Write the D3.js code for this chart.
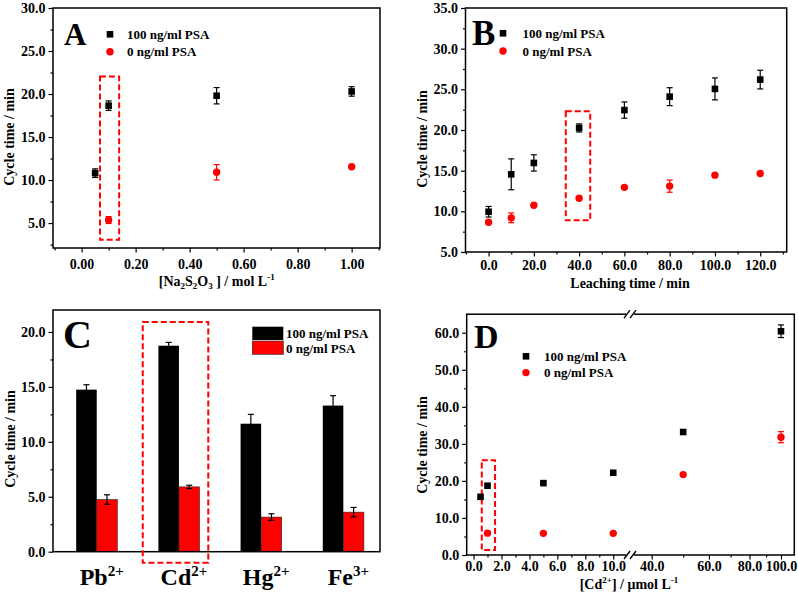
<!DOCTYPE html>
<html><head><meta charset="utf-8">
<script src="https://cdn.jsdelivr.net/npm/d3@7"></script>
<style>
body{margin:0;background:#fff}
svg{display:block}
text{font-family:'Liberation Serif','Times New Roman',serif;font-weight:bold;fill:#000}
</style>
</head><body><svg id="c" width="798" height="596"></svg>
<script>
// ---------- Panel A : [Na2S2O3] ----------
const naX_high = [0.05, 0.1, 0.5, 1.0];
const naY_high = [10.8, 18.65, 19.8, 20.3];
const naE_high = [0.5, 0.55, 0.95, 0.55];
const naX_low = [0.1, 0.5, 1.0];
const naY_low = [5.35, 10.9, 11.55];
const naE_low = [0.4, 0.9, 0.0];
const naXTicks = [0, 0.2, 0.4, 0.6, 0.8, 1.0];
const naXMinor = [-0.1, 0.1, 0.3, 0.5, 0.7, 0.9, 1.1];
const naYTicks = [5, 10, 15, 20, 25, 30];
const naYMinor = [2.5, 7.5, 12.5, 17.5, 22.5, 27.5];
const naBox = [0.068, 0.139, 3.06, 22.05];

// ---------- Panel B : leaching time ----------
const leachX = [0, 10, 20, 40, 60, 80, 100, 120];
const leachY_high = [9.95, 14.55, 15.95, 20.25, 22.45, 24.1, 25.05, 26.2];
const leachE_high = [0.65, 1.9, 1.0, 0.5, 1.0, 1.1, 1.35, 1.15];
const leachY_low = [8.65, 9.2, 10.75, 11.6, 12.95, 13.1, 14.45, 14.65];
const leachE_low = [0, 0.6, 0, 0, 0, 0.75, 0, 0];
const leachXTicks = [0, 20, 40, 60, 80, 100, 120];
const leachXMinor = [-10, 10, 30, 50, 70, 90, 110, 130];
const leachYTicks = [5, 10, 15, 20, 25, 30, 35];
const leachYMinor = [7.5, 12.5, 17.5, 22.5, 27.5, 32.5];
const leachBox = [34.1, 44.9, 8.9, 22.3];

// ---------- Panel C : interfering ions ----------
const ions = ["Pb", "Cd", "Hg", "Fe"];
const ionCharge = ["2+", "2+", "2+", "3+"];
const ionHigh = [14.75, 18.75, 11.65, 13.3];
const ionHighErr = [0.45, 0.3, 0.85, 0.9];
const ionLow = [4.75, 5.9, 3.15, 3.6];
const ionLowErr = [0.43, 0.15, 0.3, 0.43];
const ionYTicks = [0, 5, 10, 15, 20];
const ionYMinor = [2.5, 7.5, 12.5, 17.5];
const ionBox = [1.56, 2.357, -1.0, 20.9];

// ---------- Panel D : [Cd2+] ----------
const cdX_high = [0.5, 1, 5, 10, 50, 100];
const cdY_high = [15.7, 18.7, 19.4, 22.2, 33.2, 60.4];
const cdE_high = [0, 0, 0, 0, 0, 1.7];
const cdX_low = [1, 5, 10, 50, 100];
const cdY_low = [5.9, 5.85, 5.85, 21.7, 31.8];
const cdE_low = [0, 0, 0, 0, 1.5];
const cdXTicksL = [0, 2, 4, 6, 8, 10];
const cdXMinorL = [1, 3, 5, 7, 9];
const cdXTicksR = [40, 60, 80, 100];
const cdXMinorR = [50, 70, 90];
const cdYTicks = [0, 10, 20, 30, 40, 50, 60];
const cdYMinor = [5, 15, 25, 35, 45, 55];
const cdBox = [0.59, 1.54, 1.35, 25.6];

const legendLabels = ["100 ng/ml PSA", "0 ng/ml PSA"];
const RED = "#ff0000";
const svg = d3.select("#c");
const f1 = d3.format(".1f"), f2 = d3.format(".2f");

function styleAxis(g) {
  g.attr("font-size", 14).attr("font-family", null);
  g.select(".domain").remove();
  g.selectAll(".tick line").attr("stroke", "#000").attr("stroke-width", 1.2);
  g.selectAll(".tick text").attr("fill", "#000");
  return g;
}
function yAxis(fr, y, ticks, minor, fmt) {
  svg.append("g").attr("transform", `translate(${fr.x0},0)`)
    .call(d3.axisLeft(y).tickValues(minor).tickSize(2.5).tickFormat("")).call(styleAxis);
  svg.append("g").attr("transform", `translate(${fr.x0},0)`)
    .call(d3.axisLeft(y).tickValues(ticks).tickSize(4.5).tickPadding(3).tickFormat(fmt)).call(styleAxis);
}
function xAxis(fr, x, ticks, minor, fmt, pad) {
  svg.append("g").attr("transform", `translate(0,${fr.y1})`)
    .call(d3.axisBottom(x).tickValues(minor).tickSize(2.5).tickFormat("")).call(styleAxis);
  svg.append("g").attr("transform", `translate(0,${fr.y1})`)
    .call(d3.axisBottom(x).tickValues(ticks).tickSize(4.5).tickPadding(pad).tickFormat(fmt)).call(styleAxis);
}
function frame(fr) {
  svg.append("rect").attr("x", fr.x0).attr("y", fr.y0)
    .attr("width", fr.x1 - fr.x0).attr("height", fr.y1 - fr.y0)
    .attr("fill", "none").attr("stroke", "#000").attr("stroke-width", 1.5);
}
function yTitle(x, y) {
  svg.append("text").attr("transform", `translate(${x},${y}) rotate(-90)`)
    .attr("text-anchor", "middle").attr("font-size", 14).text("Cycle time / min");
}
function panelLetter(x, y, s, t) {
  svg.append("text").attr("x", x).attr("y", y).attr("font-size", s).text(t);
}
function dashedBox(x, y, b) {
  svg.append("rect").attr("x", x(b[0])).attr("y", y(b[3]))
    .attr("width", x(b[1]) - x(b[0])).attr("height", y(b[2]) - y(b[3]))
    .attr("fill", "none").attr("stroke", RED).attr("stroke-width", 2)
    .attr("stroke-dasharray", "6,3");
}
function errorBars(xs, ys, es, x, y, color) {
  const g = svg.append("g").attr("stroke", color).attr("stroke-width", 1.2);
  xs.forEach((xv, i) => {
    if (!es[i]) return;
    const cx = x(xv), yt = y(ys[i] + es[i]), yb = y(ys[i] - es[i]);
    g.append("line").attr("x1", cx).attr("x2", cx).attr("y1", yt).attr("y2", yb);
    g.append("line").attr("x1", cx - 3).attr("x2", cx + 3).attr("y1", yt).attr("y2", yt);
    g.append("line").attr("x1", cx - 3).attr("x2", cx + 3).attr("y1", yb).attr("y2", yb);
  });
}
function squares(xs, ys, x, y) {
  svg.append("g").selectAll("rect").data(xs).join("rect")
    .attr("x", (d) => x(d) - 3.3).attr("y", (d, i) => y(ys[i]) - 3.3)
    .attr("width", 6.6).attr("height", 6.6).attr("fill", "#000");
}
function circles(xs, ys, x, y) {
  svg.append("g").selectAll("circle").data(xs).join("circle")
    .attr("cx", (d) => x(d)).attr("cy", (d, i) => y(ys[i])).attr("r", 3.7).attr("fill", RED);
}
function scatterLegend(mx, my, tx, gap) {
  svg.append("rect").attr("x", mx - 3.3).attr("y", my - 3.3).attr("width", 6.6).attr("height", 6.6).attr("fill", "#000");
  svg.append("circle").attr("cx", mx).attr("cy", my + gap).attr("r", 3.7).attr("fill", RED);
  svg.append("text").attr("x", tx).attr("y", my + 4.5).attr("font-size", 13).text(legendLabels[0]);
  svg.append("text").attr("x", tx).attr("y", my + gap + 4.5).attr("font-size", 13).text(legendLabels[1]);
}

// ===== Panel A =====
{
  const fr = {x0: 53, x1: 380, y0: 8, y1: 248};
  const x = d3.scaleLinear().domain([-0.106, 1.105]).range([fr.x0, fr.x1]);
  const y = d3.scaleLinear().domain([2.1, 30]).range([fr.y1, fr.y0]);
  frame(fr);
  yAxis(fr, y, naYTicks, naYMinor, f1);
  xAxis(fr, x, naXTicks, naXMinor, f2, 7);
  dashedBox(x, y, naBox);
  errorBars(naX_high, naY_high, naE_high, x, y, "#000");
  errorBars(naX_low, naY_low, naE_low, x, y, RED);
  squares(naX_high, naY_high, x, y);
  circles(naX_low, naY_low, x, y);
  scatterLegend(110, 34.3, 127, 17.4);
  panelLetter(64, 44.5, 31, "A");
  yTitle(13.5, 137);
  const t = svg.append("text").attr("x", 216.7).attr("y", 286).attr("text-anchor", "middle").attr("font-size", 14);
  t.append("tspan").text("[Na");
  t.append("tspan").attr("font-size", 9).attr("dy", 3).text("2");
  t.append("tspan").attr("dy", -3).text("S");
  t.append("tspan").attr("font-size", 9).attr("dy", 3).text("2");
  t.append("tspan").attr("dy", -3).text("O");
  t.append("tspan").attr("font-size", 9).attr("dy", 3).text("3");
  t.append("tspan").attr("dy", -3).text(" ]  / mol L");
  t.append("tspan").attr("font-size", 9).attr("dy", -6).text("-1");
}

// ===== Panel B =====
{
  const fr = {x0: 465.5, x1: 786.7, y0: 8, y1: 252};
  const x = d3.scaleLinear().domain([-10.2, 131.7]).range([fr.x0, fr.x1]);
  const y = d3.scaleLinear().domain([5, 35]).range([fr.y1, fr.y0]);
  frame(fr);
  yAxis(fr, y, leachYTicks, leachYMinor, f1);
  xAxis(fr, x, leachXTicks, leachXMinor, f1, 4);
  dashedBox(x, y, leachBox);
  errorBars(leachX, leachY_high, leachE_high, x, y, "#000");
  errorBars(leachX, leachY_low, leachE_low, x, y, RED);
  squares(leachX, leachY_high, x, y);
  circles(leachX, leachY_low, x, y);
  scatterLegend(503, 33.3, 522.5, 17.7);
  panelLetter(472, 45, 35, "B");
  yTitle(426.5, 139);
  svg.append("text").attr("x", 630).attr("y", 288).attr("text-anchor", "middle")
    .attr("font-size", 14).text("Leaching time / min");
}

// ===== Panel C =====
{
  const fr = {x0: 53, x1: 380, y0: 310, y1: 551.7};
  const x = d3.scaleLinear().domain([0.468, 4.446]).range([fr.x0, fr.x1]);
  const y = d3.scaleLinear().domain([0, 22]).range([fr.y1, fr.y0]);
  const idx = ions.map((d, i) => i + 1);
  const bw = 0.25;
  svg.append("g").selectAll("rect").data(idx).join("rect")
    .attr("x", (d) => x(d - bw)).attr("y", (d, i) => y(ionHigh[i]))
    .attr("width", x(bw) - x(0)).attr("height", (d, i) => y(0) - y(ionHigh[i]))
    .attr("fill", "#000");
  svg.append("g").selectAll("rect").data(idx).join("rect")
    .attr("x", (d) => x(d)).attr("y", (d, i) => y(ionLow[i]))
    .attr("width", x(bw) - x(0)).attr("height", (d, i) => y(0) - y(ionLow[i]))
    .attr("fill", RED).attr("stroke", "#222").attr("stroke-width", 0.6);
  errorBars(idx.map((d) => d - bw / 2), ionHigh, ionHighErr, x, y, "#000");
  errorBars(idx.map((d) => d + bw / 2), ionLow, ionLowErr, x, y, "#000");
  frame(fr);
  yAxis(fr, y, ionYTicks, ionYMinor, f1);
  dashedBox(x, y, ionBox);
  // legend
  svg.append("rect").attr("x", 252.3).attr("y", 326.7).attr("width", 31).attr("height", 13.3).attr("fill", "#000");
  svg.append("rect").attr("x", 252.3).attr("y", 341).attr("width", 31).attr("height", 13.3).attr("fill", RED).attr("stroke", "#222").attr("stroke-width", 0.6);
  svg.append("text").attr("x", 286).attr("y", 338).attr("font-size", 13).text(legendLabels[0]);
  svg.append("text").attr("x", 286).attr("y", 353).attr("font-size", 13).text(legendLabels[1]);
  panelLetter(63, 348, 40, "C");
  yTitle(15, 439);
  idx.forEach((d, i) => {
    const t = svg.append("text").attr("x", x(d) + 5).attr("y", 585).attr("text-anchor", "middle").attr("font-size", 24);
    t.append("tspan").text(ions[i]);
    t.append("tspan").attr("font-size", 15).attr("dy", -9).text(ionCharge[i]);
  });
}

// ===== Panel D =====
{
  const fr = {x0: 466.7, x1: 794.3, y0: 314.2, y1: 555};
  const xb = 630;
  const xL = d3.scaleLinear().domain([-0.49, 11.2]).range([fr.x0, xb]);
  const xR = d3.scaleLog().domain([34.3, 109.9]).range([xb, fr.x1]);
  const x = (v) => (v < 20 ? xL(v) : xR(v));
  const y = d3.scaleLinear().domain([0, 65]).range([fr.y1, fr.y0]);
  frame(fr);
  yAxis(fr, y, cdYTicks, cdYMinor, f1);
  xAxis(fr, xL, cdXTicksL, cdXMinorL, f1, 2);
  xAxis(fr, xR, cdXTicksR, cdXMinorR, f1, 2);
  // axis breaks
  [fr.y0, fr.y1].forEach((yy) => {
    svg.append("rect").attr("x", xb - 4).attr("y", yy - 2).attr("width", 8).attr("height", 4).attr("fill", "#fff");
    [-3, 3].forEach((o) => {
      svg.append("line").attr("x1", xb + o - 3).attr("x2", xb + o + 3)
        .attr("y1", yy + 4).attr("y2", yy - 4).attr("stroke", "#000").attr("stroke-width", 1.4);
    });
  });
  dashedBox(x, y, cdBox);
  errorBars(cdX_high, cdY_high, cdE_high, x, y, "#000");
  errorBars(cdX_low, cdY_low, cdE_low, x, y, RED);
  squares(cdX_high, cdY_high, x, y);
  circles(cdX_low, cdY_low, x, y);
  scatterLegend(526, 356.3, 544, 16.3);
  panelLetter(474, 348, 34, "D");
  yTitle(426.5, 445);
  const t = svg.append("text").attr("x", 629).attr("y", 589).attr("text-anchor", "middle").attr("font-size", 14);
  t.append("tspan").text("[Cd");
  t.append("tspan").attr("font-size", 9).attr("dy", -6).text("2+");
  t.append("tspan").attr("dy", 6).text("]  / \u03bcmol L");
  t.append("tspan").attr("font-size", 9).attr("dy", -6).text("-1");
}
</script>
</body></html>
